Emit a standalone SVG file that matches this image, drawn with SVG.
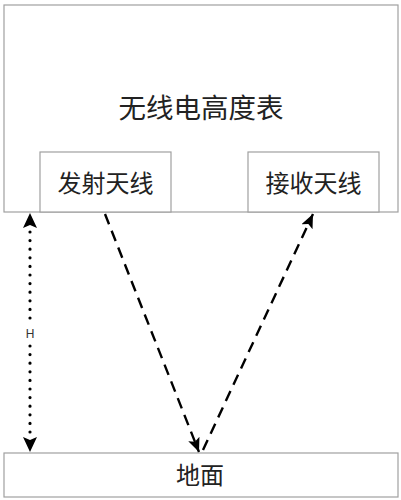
<svg xmlns="http://www.w3.org/2000/svg" width="401" height="500" viewBox="0 0 401 500">
<style>
.box{fill:#fff;stroke:#a0a0a0;stroke-width:1.2}
.t{font-family:"Noto Sans CJK SC","Liberation Sans",sans-serif;fill:#222;text-anchor:middle}
.dash{stroke:#000;stroke-width:2.4;stroke-dasharray:11,7;fill:none}
.dot{stroke:#000;stroke-width:3.2;stroke-dasharray:0,8.6;stroke-linecap:round;fill:none}
</style>
<defs>
<marker id="ah" viewBox="0 0 14 12" refX="14" refY="6" markerWidth="14" markerHeight="12" markerUnits="userSpaceOnUse" orient="auto">
<path d="M0,0 L14,6 L0,12 L3,6 z" fill="#000"/>
</marker>
</defs>
<g id="altimeter">
<rect class="box" x="4" y="5" width="394" height="207"/>
<text class="t" x="201" y="118" font-size="27.5">无线电高度表</text>
</g>
<g id="tx">
<rect class="box" x="40" y="152" width="131" height="60"/>
<text class="t" x="105.5" y="192" font-size="24">发射天线</text>
</g>
<g id="rx">
<rect class="box" x="248" y="152" width="131" height="60"/>
<text class="t" x="313.5" y="192" font-size="24">接收天线</text>
</g>
<g id="ground">
<rect class="box" x="4" y="453" width="394" height="44"/>
<text class="t" x="200" y="484" font-size="24">地面</text>
</g>
<g id="connectors">
<line class="dash" x1="105" y1="214" x2="199" y2="452" marker-end="url(#ah)"/>
<line class="dash" x1="203" y1="450" x2="313" y2="214" marker-end="url(#ah)"/>
<line class="dot" x1="30" y1="232" x2="30" y2="322"/>
<line class="dot" x1="30" y1="346" x2="30" y2="436"/>
<path d="M30,213 L37,228 L30,225 L23,228 z" fill="#000"/>
<path d="M30,452 L37,437 L30,440 L23,437 z" fill="#000"/>
<text x="30" y="338" font-family="Liberation Sans,sans-serif" font-size="12" fill="#333" text-anchor="middle">H</text>
</g>
</svg>
